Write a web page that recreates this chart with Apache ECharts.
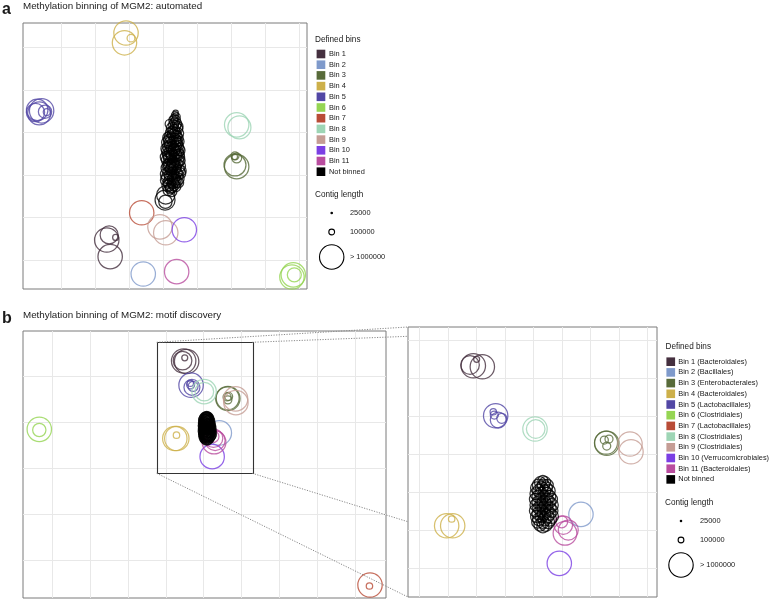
<!DOCTYPE html>
<html><head><meta charset="utf-8">
<script src="https://cdn.jsdelivr.net/npm/echarts/dist/echarts.min.js"></script>
<style>html,body{margin:0;padding:0;background:#fff}#c{width:772px;height:601px}</style>
</head><body><div id="c"></div>
<script>
// ---------- categories ----------
const binNamesA = ['Bin 1','Bin 2','Bin 3','Bin 4','Bin 5','Bin 6','Bin 7','Bin 8','Bin 9','Bin 10','Bin 11','Not binned'];
const binNamesB = ['Bin 1 (Bacteroidales)','Bin 2 (Bacillales)','Bin 3 (Enterobacterales)','Bin 4 (Bacteroidales)','Bin 5 (Lactobacillales)','Bin 6 (Clostridiales)','Bin 7 (Lactobacillales)','Bin 8 (Clostridiales)','Bin 9 (Clostridiales)','Bin 10 (Verrucomicrobiales)','Bin 11 (Bacteroidales)','Not binned'];
const binColors = ['#45303f','#7f9acb','#586b3a','#cdb04a','#5247a5','#95d553','#b94c37','#9ed5b5','#c59d95','#7b3fe4','#b94d9f','#000000'];

// ---------- panel a data: [x, y, contig length] ----------
const aBin1 = [[-16.5,-15.3,1100000],[-15.8,-14.1,585000],[-15.5,-19.2,1100000],[-13.9,-14.7,104000]];
const aBin2 = [[-5.8,-23.3,1100000]];
const aBin3 = [[21.6,1.95,1100000],[21.1,2.35,830000],[21.1,4.5,160000],[21.6,4.0,220000],[21.0,4.3,100000]];
const aBin4 = [[-10.85,33.4,1200000],[-11.3,31.1,1200000],[-9.4,32.2,150000]];
const aBin5 = [[-36.9,15.3,800000],[-36.3,14.5,900000],[-35.6,15.1,1000000],[-34.1,14.8,130000],[-34.6,14.9,350000],[-37.4,14.7,600000]];
const aBin6 = [[38.2,-23.5,1200000],[37.8,-24.0,1000000],[38.5,-23.5,382000]];
const aBin7 = [[-6.25,-8.9,1200000]];
const aBin8 = [[21.6,11.8,1000000],[22.4,11.2,900000]];
const aBin9 = [[-0.9,-12.2,1200000],[0.8,-13.6,1100000]];
const aBin10 = [[6.25,-12.9,1200000]];
const aBin11 = [[4.0,-22.75,1200000]];
const aNotBinned = [
 [3.7,14.6,90000],[3.5,14.1,130000],[3.9,13.7,150000],[3.3,13.3,170000],[3.8,12.9,190000],[3.4,12.4,210000],[4.1,12.1,200000],[3.1,11.8,220000],[3.0,12.9,180000],
 [3.7,11.5,240000],[2.6,11.0,260000],[4.3,10.9,230000],[3.3,10.5,270000],[2.3,10.0,250000],[4.5,9.8,240000],[3.0,9.5,280000],[3.9,9.2,260000],[2.0,9.0,260000],
 [1.5,8.8,250000],[2.5,8.6,280000],[3.5,8.4,270000],[4.4,8.7,230000],[1.2,7.7,260000],[2.1,7.5,300000],[3.0,7.8,260000],[4.0,7.4,280000],[4.7,7.9,220000],
 [1.6,6.6,280000],[2.7,6.4,300000],[3.7,6.7,270000],[4.6,6.2,250000],[3.3,6.0,300000],
 [1.2,5.6,260000],[2.2,5.4,300000],[3.2,5.7,280000],[4.2,5.3,300000],[1.7,4.5,280000],[2.8,4.4,320000],[3.8,4.6,300000],[4.8,4.2,240000],[2.5,4.9,280000],
 [1.3,3.5,300000],[2.4,3.3,300000],[3.4,3.6,280000],[4.4,3.2,300000],
 [1.8,2.5,300000],[2.9,2.3,320000],[4.0,2.6,280000],[5.0,2.1,250000],[1.2,1.6,300000],[2.3,1.3,280000],[3.4,1.5,320000],[4.5,1.2,300000],[2.0,2.0,300000],
 [1.7,0.5,300000],[2.8,0.3,300000],[3.9,0.6,280000],[5.0,0.4,270000],
 [1.3,-0.6,300000],[2.3,-0.8,320000],[3.4,-0.5,280000],[4.4,-0.9,300000],[3.5,-1.2,300000],[1.8,-1.7,300000],[2.9,-1.8,280000],[4.0,-1.6,260000],
 [1.4,-2.6,280000],[2.5,-2.8,300000],[3.6,-2.7,260000],
 [1.6,-3.6,250000],[2.6,-3.9,220000],[0.8,-4.7,600000],[0.6,-5.9,700000],[0.7,-6.3,350000],
 [2.0,12.0,200000],[4.4,11.4,220000],[2.8,10.2,260000],[3.6,9.9,250000],[1.8,8.2,280000],[3.9,8.0,270000],[2.2,6.9,290000],[4.3,6.9,260000],
 [1.5,5.0,280000],[3.6,5.1,300000],[4.6,4.8,260000],[1.9,3.9,300000],[3.0,3.0,300000],[4.9,3.4,250000],[1.5,2.2,300000],[3.6,2.0,300000],
 [2.6,1.6,300000],[4.2,0.1,280000],[2.2,0.0,300000],[1.0,-1.2,300000],[3.0,-1.0,300000],[2.0,-2.2,300000],[3.2,-2.3,280000],[4.5,-1.8,240000],
 [2.2,-3.2,250000],[5.2,1.0,250000],[1.0,0.2,300000],[0.9,4.2,280000],[1.0,6.2,260000],[4.9,5.8,240000]
];

// ---------- panel b data: [x, y, contig length] ----------
const bBin1 = [[-5.25,23.26,1000000],[-4.46,23.16,1100000],[-4.96,23.94,104000],[-5.54,23.34,620000]];
const bBin2 = [[4.19,7.62,1100000]];
const bBin3 = [[6.39,15.16,900000],[6.45,15.1,1000000],[6.24,15.44,158000],[6.65,15.55,158000],[6.45,14.81,158000]];
const bBin4 = [[-7.59,6.42,1100000],[-7.06,6.42,1100000],[-7.15,7.13,115000]];
const bBin5 = [[-3.29,18.0,1000000],[-3.06,17.55,477000],[-3.5,18.42,115000],[-3.41,18.07,158000],[-2.76,17.73,220000]];
const bBin6 = [[-43.44,8.41,1100000],[-43.44,8.26,350000]];
const bBin7 = [[44.05,-25.43,1100000],[43.9,-25.65,115000]];
const bBin8 = [[0.16,16.6,1100000],[0.22,16.6,620000]];
const bBin9 = [[8.49,15.02,1000000],[8.58,14.21,1100000]];
const bBin10 = [[2.29,2.46,1100000]];
const bBin11 = [[2.5,6.84,296000],[2.64,6.49,620000],[3.08,5.97,700000],[2.79,5.62,950000]];
const bNotBinned = [
 [0.85,11.2,220000],[0.6,11.0,260000],[1.05,11.0,260000],
 [0.45,10.7,300000],[0.9,10.7,300000],[1.25,10.7,280000],
 [0.3,10.4,300000],[0.75,10.4,320000],[1.15,10.4,300000],
 [0.5,10.1,320000],[1.0,10.1,300000],[1.4,10.1,300000],
 [0.25,9.8,300000],[0.7,9.8,320000],[1.2,9.8,320000],
 [0.45,9.5,320000],[0.95,9.5,300000],[1.45,9.5,300000],
 [0.2,9.2,300000],[0.7,9.2,320000],[1.2,9.2,320000],[1.6,9.2,300000],
 [0.45,8.9,320000],[0.95,8.9,340000],[1.4,8.9,320000],
 [0.25,8.6,300000],[0.7,8.6,320000],[1.15,8.6,340000],[1.65,8.6,320000],
 [0.5,8.3,320000],[0.95,8.3,340000],[1.45,8.3,320000],
 [0.2,8.0,300000],[0.7,8.0,320000],[1.2,8.0,340000],[1.6,8.0,340000],
 [0.45,7.7,320000],[0.95,7.7,340000],[1.4,7.7,360000],
 [0.3,7.4,300000],[0.75,7.4,320000],[1.2,7.4,360000],[1.6,7.4,380000],
 [0.5,7.1,320000],[1.0,7.1,340000],[1.45,7.1,360000],
 [0.4,6.8,300000],[0.85,6.8,320000],[1.3,6.8,340000],
 [0.6,6.5,300000],[1.1,6.5,320000],[0.85,6.3,300000]
];

const aSeriesData = [aBin1,aBin2,aBin3,aBin4,aBin5,aBin6,aBin7,aBin8,aBin9,aBin10,aBin11,aNotBinned];
const bSeriesData = [bBin1,bBin2,bBin3,bBin4,bBin5,bBin6,bBin7,bBin8,bBin9,bBin10,bBin11,bNotBinned];

// ---------- grid line (break) values ----------
const aGridX = [-30,-20,-10,0,10,20,30,40];
const aGridY = [-20,-10,0,10,20,30];
const bGridX = [-40,-30,-20,-10,0,10,20,30,40];
const bGridY = [-20,-10,0,10,20];
const insetGridX = [-10,-7.5,-5,-2.5,0,2.5,5,7.5,10];
const insetGridY = [2,6,10,14,18,22,26];

// zoom window drawn in panel b: [x0, y0, x1, y1]
const zoomRect = [-12.38, 27.33, 12.91, -1.15];
const insetLinkY = [26.36, 6.84];

const sizeLegendValues = [25000, 100000, 1000000];
const sizeLegendLabels = ['25000', '100000', '> 1000000'];

// ---------- helpers ----------
function sizeOf(L){
  const s = Math.sqrt(Math.min(Math.max(L, 25000), 1000000));
  return 1.5 + 0.0272 * (s - 158.1);
}
const FONT = '"Liberation Sans", Arial, Helvetica, sans-serif';

const axesCfg = [
  {x:[-41.06, 42.22], y:[-26.83, 35.76]},
  {x:[-47.75, 48.28], y:[-28.26, 29.78]},
  {x:[-10.98, 10.86], y:[-1.08, 27.34]}
];
const grids = [
  {left:23, top:23, width:284, height:266},
  {left:23, top:331, width:363, height:267},
  {left:408, top:327, width:249, height:270}
];

function gridLineSeries(g, xs, ys){
  const data = xs.map(v => [0, v]).concat(ys.map(v => [1, v]));
  return {
    type:'custom', xAxisIndex:g, yAxisIndex:g, silent:true, z:1, animation:false,
    data,
    renderItem(params, api){
      const cs = params.coordSys;
      const kind = api.value(0), v = api.value(1);
      if (kind === 0) {
        const x = Math.round(api.coord([v, 0])[0]) + 0.5;
        return {type:'line', shape:{x1:x, y1:cs.y, x2:x, y2:cs.y + cs.height}, style:{stroke:'#e8e8e8', lineWidth:1}};
      }
      const y = Math.round(api.coord([0, v])[1]) + 0.5;
      return {type:'line', shape:{x1:cs.x, y1:y, x2:cs.x + cs.width, y2:y}, style:{stroke:'#e8e8e8', lineWidth:1}};
    }
  };
}

function scatterSeries(g, names, datas){
  return datas.map((d, i) => ({
    type:'scatter', name:names[i], xAxisIndex:g, yAxisIndex:g, data:d,
    symbol:'circle', symbolSize:(v) => sizeOf(v[2]),
    itemStyle:{color:'rgba(0,0,0,0)', borderColor:binColors[i], borderWidth:1.25},
    silent:true, z:3, animation:false, clip:true
  }));
}

const series = [
  gridLineSeries(0, aGridX, aGridY),
  gridLineSeries(1, bGridX, bGridY),
  gridLineSeries(2, insetGridX, insetGridY),
  ...scatterSeries(0, binNamesA, aSeriesData),
  ...scatterSeries(1, binNamesB, bSeriesData),
  ...scatterSeries(2, binNamesB, bSeriesData),
  {
    type:'custom', xAxisIndex:1, yAxisIndex:1, silent:true, z:5, animation:false,
    data:[zoomRect],
    renderItem(params, api){
      const p0 = api.coord([api.value(0), api.value(1)]);
      const p1 = api.coord([api.value(2), api.value(3)]);
      return {type:'rect', shape:{x:Math.round(p0[0])+0.5, y:Math.round(p0[1])+0.5, width:Math.round(p1[0]-p0[0]), height:Math.round(p1[1]-p0[1])},
        style:{fill:'none', stroke:'#333333', lineWidth:1.1}};
    }
  }
];

// ---------- legends (graphic) ----------
const graphic = [];
function txt(x, y, text, size, opts){
  graphic.push({type:'text', silent:true, z:10, style:{x, y, text, font: (opts && opts.bold ? 'bold ' : '') + size + 'px ' + FONT, fill:'#1a1a1a', align:'left', verticalAlign:'middle'}});
}
txt(2, 10, 'a', 16, {bold:true});
txt(23, 6.5, 'Methylation binning of MGM2: automated', 9.8);
txt(2, 319, 'b', 16, {bold:true});
txt(23, 315.5, 'Methylation binning of MGM2: motif discovery', 9.8);

function binLegend(names, titleX, titleY, swX, row0, textX){
  txt(titleX, titleY, 'Defined bins', 8.2);
  names.forEach((n, i) => {
    const cy = row0 + i * 10.7;
    graphic.push({type:'rect', silent:true, z:10, shape:{x:swX, y:cy - 4.3, width:8.7, height:8.6}, style:{fill:binColors[i]}});
    txt(textX, cy, n, 7.4);
  });
}
function sizeLegend(titleX, titleY, cx, ys, textX){
  txt(titleX, titleY, 'Contig length', 8.2);
  sizeLegendValues.forEach((v, i) => {
    const r = sizeOf(v) / 2;
    graphic.push({type:'circle', silent:true, z:10, shape:{cx, cy:ys[i], r}, style:{fill: i === 0 ? '#000' : 'none', stroke:'#000', lineWidth:1.1}});
    txt(textX, ys[i], sizeLegendLabels[i], 7.4);
  });
}
binLegend(binNamesA, 315, 39.5, 316.6, 54, 329);
sizeLegend(315, 195, 331.7, [213, 232, 257], 350);
binLegend(binNamesB, 665.5, 347, 666.4, 361.7, 678.3);
sizeLegend(665, 503, 681, [521, 540, 565], 700);

const option = {
  backgroundColor:'#ffffff',
  animation:false,
  grid: grids.map(g => Object.assign({show:true, borderColor:'#7a7a7a', borderWidth:1, backgroundColor:'transparent', containLabel:false}, g)),
  xAxis: axesCfg.map((a, i) => ({gridIndex:i, type:'value', min:a.x[0], max:a.x[1], axisLine:{show:false}, axisTick:{show:false}, axisLabel:{show:false}, splitLine:{show:false}})),
  yAxis: axesCfg.map((a, i) => ({gridIndex:i, type:'value', min:a.y[0], max:a.y[1], axisLine:{show:false}, axisTick:{show:false}, axisLabel:{show:false}, splitLine:{show:false}})),
  series,
  graphic
};

const chart = echarts.init(document.getElementById('c'), null, {renderer:'canvas'});
chart.setOption(option);

// dotted connector lines between zoom window and inset
const P1 = pt => chart.convertToPixel({gridIndex:1}, pt);
const P2 = pt => chart.convertToPixel({gridIndex:2}, pt);
const ix = axesCfg[2].x[0];
const links = [
  [P1([zoomRect[0], zoomRect[1]]), P2([ix, axesCfg[2].y[1]])],
  [P1([zoomRect[2], zoomRect[1]]), P2([ix, insetLinkY[0]])],
  [P1([zoomRect[0], zoomRect[3]]), P2([ix, axesCfg[2].y[0]])],
  [P1([zoomRect[2], zoomRect[3]]), P2([ix, insetLinkY[1]])]
];
links.forEach(([a, b]) => {
  graphic.push({type:'line', silent:true, z:12, shape:{x1:a[0], y1:a[1], x2:b[0], y2:b[1]}, style:{stroke:'#8a8a8a', lineWidth:1, lineDash:[1.2, 1.4]}});
});
chart.setOption({graphic});
</script>
</body></html>
